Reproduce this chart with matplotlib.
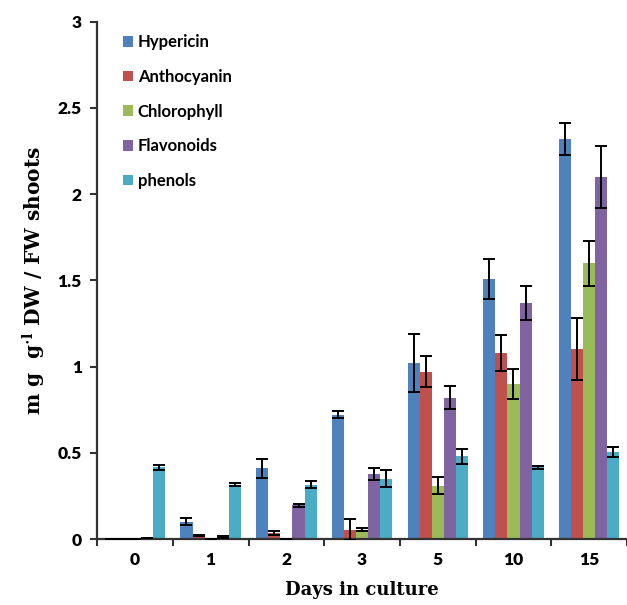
import numpy as np
import matplotlib
matplotlib.use("Agg")
import matplotlib.pyplot as plt

days = ["0", "1", "2", "3", "5", "10", "15"]
series_names = ["Hypericin", "Anthocyanin", "Chlorophyll", "Flavonoids", "phenols"]

hypericin = [0.0, 0.10, 0.41, 0.72, 1.02, 1.51, 2.32]
hypericin_err = [0.0, 0.02, 0.055, 0.02, 0.17, 0.115, 0.095]
anthocyanin = [0.0, 0.02, 0.035, 0.055, 0.97, 1.08, 1.10]
anthocyanin_err = [0.0, 0.005, 0.01, 0.06, 0.09, 0.105, 0.18]
chlorophyll = [0.0, 0.0, 0.0, 0.055, 0.31, 0.90, 1.60]
chlorophyll_err = [0.0, 0.0, 0.0, 0.01, 0.05, 0.085, 0.13]
flavonoids = [0.005, 0.01, 0.195, 0.375, 0.82, 1.37, 2.10]
flavonoids_err = [0.0, 0.005, 0.008, 0.035, 0.065, 0.10, 0.18]
phenols = [0.415, 0.315, 0.315, 0.35, 0.48, 0.415, 0.505]
phenols_err = [0.015, 0.01, 0.02, 0.05, 0.045, 0.01, 0.03]

colors = ["#4F81BD", "#C0504D", "#9BBB59", "#8064A2", "#4BACC6"]

values = [hypericin, anthocyanin, chlorophyll, flavonoids, phenols]
errors = [hypericin_err, anthocyanin_err, chlorophyll_err, flavonoids_err, phenols_err]

plt.rcParams["mathtext.default"] = "regular"

fig = plt.figure(figsize=(6.27, 6.05), dpi=100)
ax = fig.add_axes([0.155, 0.109, 0.845, 0.855])

x = np.arange(len(days))
width = 0.16
for i, (name, vals, errs, col) in enumerate(zip(series_names, values, errors, colors)):
    pos = x + (i - 2) * width
    ax.bar(pos, vals, width, color=col, label=name, zorder=2)
    ax.errorbar(pos, vals, yerr=errs, fmt="none", ecolor="black",
                elinewidth=1.4, capsize=4, capthick=1.4, zorder=3)

ax.set_xlim(-0.5, len(days) - 0.5)
ax.set_ylim(0, 3)
ax.set_yticks([0, 0.5, 1, 1.5, 2, 2.5, 3])
ax.set_yticklabels(["0", "0.5", "1", "1.5", "2", "2.5", "3"])
ax.set_xticks(x)
ax.set_xticklabels(days)
ax.set_xticks(np.arange(-0.5, len(days), 1.0), minor=True)
ax.tick_params(axis="x", which="major", length=0, pad=9)
ax.tick_params(axis="x", which="minor", length=5, width=1.5, color="#333333")
ax.tick_params(axis="y", length=5, width=1.5, color="#333333", pad=6)
for lab in ax.get_xticklabels() + ax.get_yticklabels():
    lab.set_fontfamily("Lato")
    lab.set_fontweight("heavy")
    lab.set_fontsize(12.5)
    lab.set_color("black")

for s in ["top", "right"]:
    ax.spines[s].set_visible(False)
for s in ["left", "bottom"]:
    ax.spines[s].set_linewidth(1.6)
    ax.spines[s].set_color("#333333")

ax.set_ylabel(r"m g  g$^{\cdot l}$ DW / FW shoots", fontfamily="DejaVu Serif",
              fontweight="bold", fontsize=14.5, labelpad=8)
ax.set_xlabel("Days in culture", fontfamily="DejaVu Serif",
              fontweight="bold", fontsize=13, labelpad=10)

leg = ax.legend(loc="upper left", bbox_to_anchor=(0.02, 1.005), frameon=False,
                handlelength=0.6, handleheight=0.6, handletextpad=0.3,
                labelspacing=1.12, prop={"family": "Lato", "weight": "bold", "size": 12})

fig.savefig("out.png", dpi=100)
